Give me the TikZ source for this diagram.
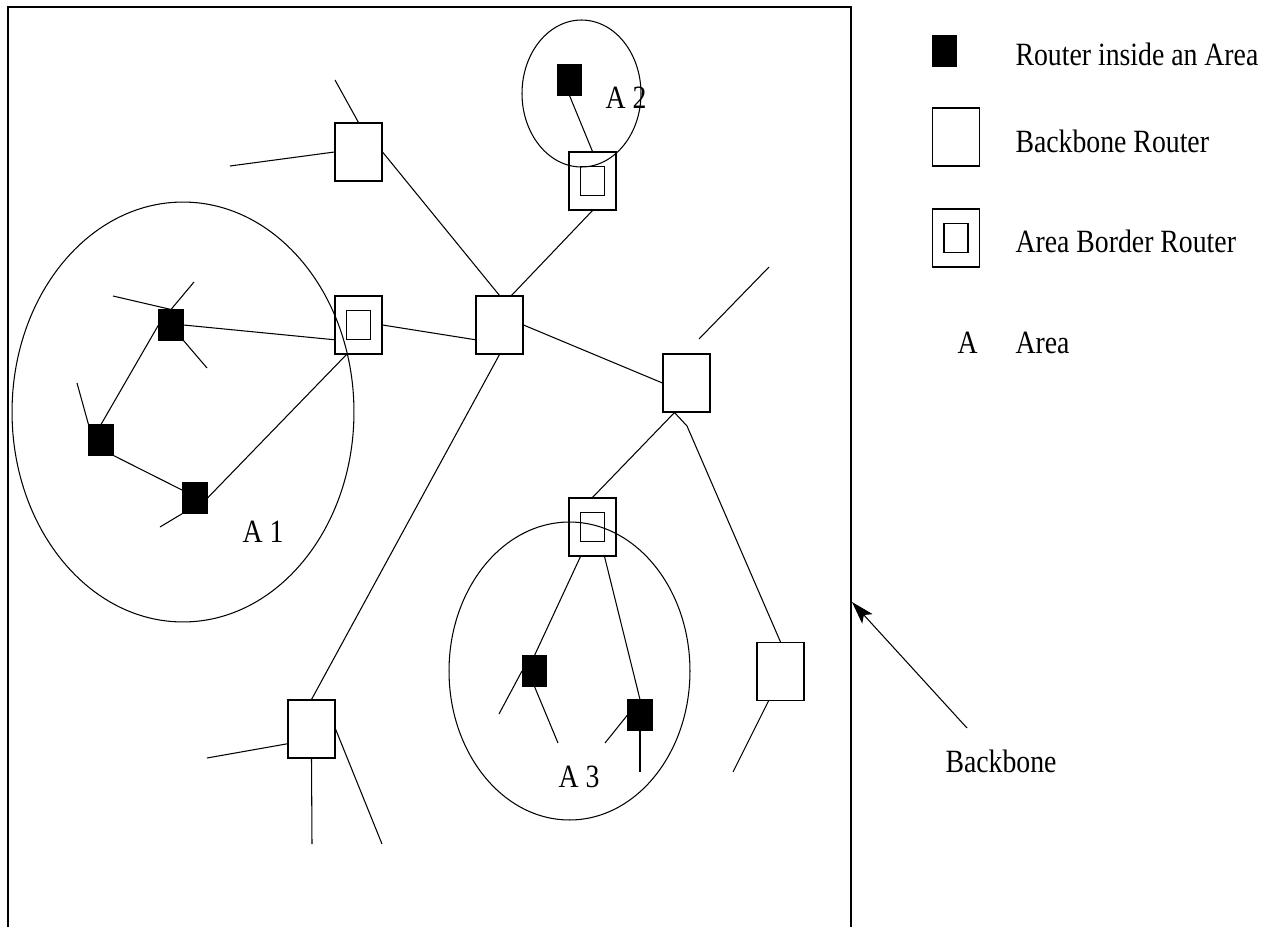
\documentclass[tikz,border=0pt]{standalone}
\usepackage{fontspec}
\usepackage{graphicx}
\setmainfont{Liberation Serif}
\usetikzlibrary{calc,arrows.meta}
% slightly tall lettering
\newcommand{\tallText}[1]{\scalebox{1}[1.17]{#1}}

\begin{document}
\begin{tikzpicture}[x=0.02cm, y=-0.02cm, line width=0.6pt,
  bbr/.style={draw, rectangle, minimum width=0.94cm, minimum height=1.16cm, inner sep=0pt},
  abr/.style={bbr, path picture={\draw (path picture bounding box.center) ++(-12,-14.5) rectangle ++(24,29);}},
  inr/.style={draw, fill=black, rectangle, minimum width=0.48cm, minimum height=0.6cm, inner sep=0pt},
  lbl/.style={inner sep=0pt, anchor=base west, font=\fontsize{15.8}{19}\selectfont},
  area/.style={line width=0.6pt}
  ]
\useasboundingbox (0,0) rectangle (1276,927);

% backbone frame (open at the bottom)
\draw[line width=0.7pt] (8,927) -- (8,7) -- (851,7) -- (851,927);

% areas
\draw[area] (183,412) ellipse [x radius=3.42cm, y radius=4.2cm];
\draw[area] (581.5,93.5) ellipse [x radius=1.19cm, y radius=1.47cm];
\draw[area] (569.5,671) ellipse [x radius=2.41cm, y radius=2.98cm];

% backbone routers
\node[bbr] (br1)  at (358.5,152) {};
\node[bbr] (hub)  at (499.5,325) {};
\node[bbr] (brr)  at (686.5,383) {};
\node[bbr] (brbr) at (780.5,671.5) {};
\node[bbr] (brbl) at (311.5,729) {};

% area border routers
\node[abr] (abr1) at (358.5,325) {};
\node[abr] (abr2) at (592.5,181) {};
\node[abr] (abr3) at (592.5,527) {};

% routers inside areas
\node[inr] (a2r) at (569.5,80) {};
\node[inr] (a1t) at (171,325) {};
\node[inr] (a1l) at (101,440) {};
\node[inr] (a1b) at (195,498) {};
\node[inr] (a3l) at (534.5,671) {};
\node[inr] (a3r) at (640,715) {};

% free ends of stub links
\coordinate (s1)  at (335,80);
\coordinate (s2)  at (230,166);
\coordinate (s3a) at (699,339);
\coordinate (s3b) at (769,267);
\coordinate (kink) at (687,426);
\coordinate (s4)  at (733,772);
\coordinate (s5)  at (499,714);
\coordinate (s6)  at (558,743);
\coordinate (s7)  at (605,743);
\coordinate (s8)  at (640,772);
\coordinate (s9)  at (207,758);
\coordinate (s10) at (312,844);
\coordinate (s11) at (382,844);
\coordinate (s12) at (113,296);
\coordinate (s13) at (194,282);
\coordinate (s14) at (207,368);
\coordinate (s15) at (77,383);
\coordinate (s16) at (160,527);

% backbone links
\draw (br1.north) -- (s1);
\draw (br1.west) -- (s2);
\draw (br1.east) -- (hub.north);
\draw (abr2.south) -- ($(hub.north)!0.5!(hub.north east)$);
\draw (a2r.south) -- (abr2.north);
\draw (abr1.east) -- ($(hub.west)!0.5!(hub.south west)$);
\draw (hub.east) -- (brr.west);
\draw (hub.south) -- (brbl.north);
\draw (s3a) -- (s3b);
\draw ($(brr.south)!0.5!(brr.south west)$) -- (abr3.north);
\draw ($(brr.south)!0.5!(brr.south west)$) -- (kink) -- (brbr.north);
\draw ($(brbr.south)!0.5!(brbr.south west)$) -- (s4);
\draw ($(brbl.west)!0.5!(brbl.south west)$) -- (s9);
\draw (brbl.south) -- (s10);
\draw (brbl.east) -- (s11);

% area 3 links
\draw ($(abr3.south)!0.5!(abr3.south west)$) -- (a3l.north);
\draw ($(abr3.south)!0.5!(abr3.south east)$) -- (a3r.north);
\draw (a3l.west) -- (s5);
\draw (a3l.south) -- (s6);
\draw (a3r.west) -- (s7);
\draw (a3r.south) -- (s8);

% area 1 links
\draw (a1t.east) -- ($(abr1.west)!0.5!(abr1.south west)$);
\draw (a1t.north) -- (s12);
\draw (a1t.north) -- (s13);
\draw (a1t.south east) -- (s14);
\draw (a1t.west) -- (a1l.north);
\draw (a1l.north west) -- (s15);
\draw (a1l.south east) -- ($(a1b.west)!0.5!(a1b.north west)$);
\draw (a1b.south west) -- (s16);
\draw (a1b.east) -- ($(abr1.south)!0.5!(abr1.south west)$);

% area labels
\node[lbl] (la1) at (242,542) {\tallText{A 1}};
\node[lbl] (la2) at (605,108) {\tallText{A 2}};
\node[lbl] (la3) at (558,787) {\tallText{A 3}};

% backbone pointer
\node[lbl] (lbb) at (945,772) {\tallText{Backbone}};
\coordinate (arrtail) at (967,728);
\coordinate (arrtip) at (852,602);
\draw[-{Stealth[length=13pt, width=8pt, inset=3pt]}] (arrtail) -- (arrtip);

% legend
\node[inr] (legin)  at (944.5,51) {};
\node[bbr] (legbb)  at (956,137) {};
\node[abr] (legabr) at (956,238) {};
\node[lbl] (legA)   at (957,353) {\tallText{A}};
\node[lbl] (t1) at (1015,65)  {\tallText{Router inside an Area}};
\node[lbl] (t2) at (1015,152) {\tallText{Backbone Router}};
\node[lbl] (t3) at (1015,252) {\tallText{Area Border Router}};
\node[lbl] (t4) at (1015,353) {\tallText{Area}};
\end{tikzpicture}
\end{document}
